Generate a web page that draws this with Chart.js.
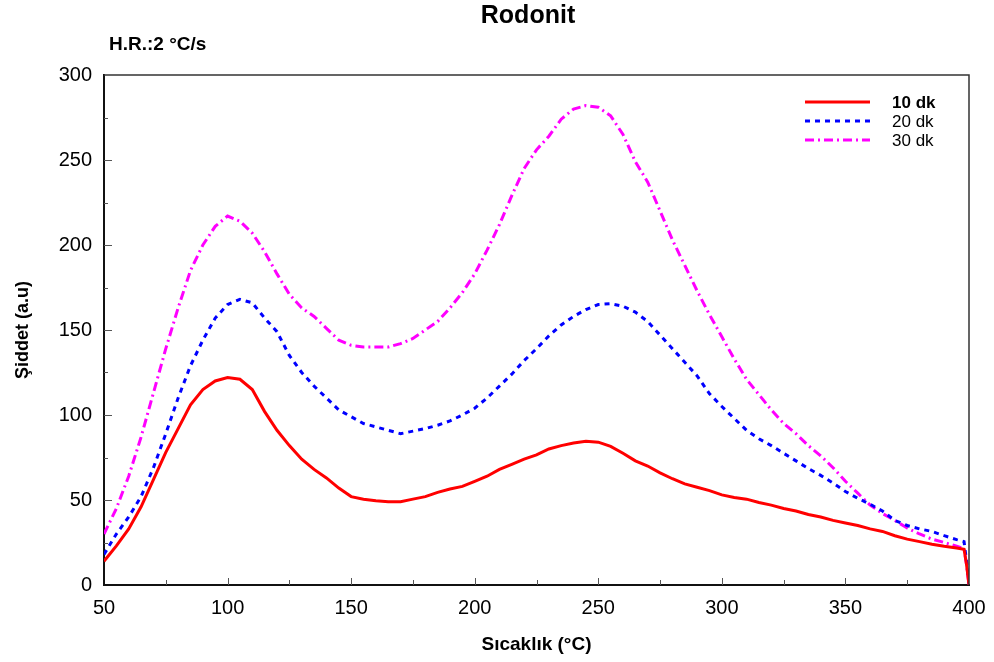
<!DOCTYPE html>
<html>
<head>
<meta charset="utf-8">
<script src="https://cdn.jsdelivr.net/npm/chart.js@4.4.1/dist/chart.umd.min.js"></script>
<style>
	body { margin: 0; background: #fff; }
	#wrap { width: 994px; height: 662px; }
</style>
</head>
<body>
<div id="wrap"><canvas id="chart" width="994" height="662"></canvas></div>
<script>
// Sıcaklık (°C)
const temps = [
	50, 55, 60, 65, 70, 75, 80, 85, 90, 95,
	100, 105, 110, 115, 120, 125, 130, 135, 140, 145,
	150, 155, 160, 165, 170, 175, 180, 185, 190, 195,
	200, 205, 210, 215, 220, 225, 230, 235, 240, 245,
	250, 255, 260, 265, 270, 275, 280, 285, 290, 295,
	300, 305, 310, 315, 320, 325, 330, 335, 340, 345,
	350, 355, 360, 365, 370, 375, 380, 385, 390, 395,
	398, 399, 400
];

// Şiddet (a.u) for each series
const dk10 = [
	14, 23, 33, 46, 62, 78, 92, 106, 115, 120,
	122, 121, 115, 102, 91, 82, 74, 68, 63, 57,
	52, 50.5, 49.5, 49, 49, 50.5, 52, 54.5, 56.5, 58,
	61, 64, 68, 71, 74, 76.5, 80, 82, 83.5, 84.5,
	84, 81.5, 77.5, 73, 70, 66, 62.5, 59.5, 57.5, 55.5,
	53, 51.5, 50.5, 48.5, 47, 45, 43.5, 41.5, 40, 38,
	36.5, 35, 33, 31.5, 29, 27, 25.5, 24, 22.8, 21.8,
	21, 12, 0
];

const dk20 = [
	18, 30, 40, 52, 69, 89, 110, 129, 144, 157,
	165, 168, 166, 157, 149, 135, 125, 117, 110, 103,
	99, 95, 93, 91, 89, 90.5, 92, 94, 96.5, 100,
	104, 110, 117, 124, 132, 139, 146.5, 153, 158, 162,
	165, 165.5, 164, 160.5, 155, 147, 139, 131, 123, 112.5,
	105, 98, 91, 86, 82, 77.5, 73, 68.5, 64.5, 60,
	55, 51, 47.5, 43.5, 38, 35, 33, 31.5, 29, 26.7,
	25.5, 14, 0
];

const dk30 = [
	30, 45, 64, 87, 113, 139, 163, 185, 200, 211,
	217, 214, 207, 196, 183, 171, 163, 158, 151, 144,
	141, 140, 140, 140, 142, 145, 150, 155, 163, 172,
	183, 197, 212, 229, 245, 256, 264, 274, 280, 282,
	281, 276, 265, 249, 237, 220, 203, 188, 173, 159,
	146, 133, 121, 112, 103, 95, 89, 82, 76, 69,
	61, 54, 47, 42, 38, 33.5, 30, 27, 25, 22.8,
	21.5, 12, 0
];

const seriesNames = ['10 dk', '20 dk', '30 dk'];
const xTicks = [50, 100, 150, 200, 250, 300, 350, 400];
const yTicks = [0, 50, 100, 150, 200, 250, 300];

const FONT = '"Liberation Sans", Arial, sans-serif';

const points = arr => temps.map((t, i) => ({ x: t, y: arr[i] }));

// inward ticks, box, free texts and legend
const decor = {
	id: 'decor',
	afterDraw(chart)
	{
		const { ctx, chartArea: a, scales } = chart;
		const xs = scales.x, ys = scales.y;
		ctx.save();

		// top and right frame
		ctx.strokeStyle = '#333';
		ctx.lineWidth = 1.5;
		ctx.beginPath();
		ctx.moveTo(a.left, a.top);
		ctx.lineTo(a.right, a.top);
		ctx.lineTo(a.right, a.bottom);
		ctx.stroke();

		// ticks pointing into the plot
		ctx.strokeStyle = '#555';
		ctx.lineWidth = 1;
		for (let v = 75; v < 400; v += 25) {
			const px = Math.round(xs.getPixelForValue(v)) + 0.5;
			const len = v % 50 === 0 ? 7 : 5;
			ctx.beginPath();
			ctx.moveTo(px, a.bottom);
			ctx.lineTo(px, a.bottom - len);
			ctx.stroke();
		}
		for (let v = 25; v < 300; v += 25) {
			const py = Math.round(ys.getPixelForValue(v)) + 0.5;
			const len = v % 50 === 0 ? 8 : 4;
			ctx.beginPath();
			ctx.moveTo(a.left, py);
			ctx.lineTo(a.left + len, py);
			ctx.stroke();
		}

		// titles
		ctx.fillStyle = '#000';
		ctx.textBaseline = 'middle';
		ctx.textAlign = 'center';
		ctx.font = 'bold 25px ' + FONT;
		ctx.fillText('Rodonit', 528, 16);
		ctx.textAlign = 'left';
		ctx.font = 'bold 19px ' + FONT;
		ctx.fillText('H.R.:2 °C/s', 109, 45);

		// legend
		const rows = [102, 121, 140];
		chart.data.datasets.forEach((ds, i) => {
			ctx.strokeStyle = ds.borderColor;
			ctx.lineWidth = ds.borderWidth;
			ctx.setLineDash(ds.borderDash || []);
			ctx.beginPath();
			ctx.moveTo(805, rows[i]);
			ctx.lineTo(870, rows[i]);
			ctx.stroke();
			ctx.setLineDash([]);
			ctx.fillStyle = '#000';
			ctx.font = (i === 0 ? 'bold ' : '') + '17px ' + FONT;
			ctx.fillText(ds.label, 892, rows[i] + 1);
		});

		ctx.restore();
	}
};

new Chart(document.getElementById('chart'), {
	type: 'line',
	data: {
		datasets: [
			{
				label: seriesNames[0],
				data: points(dk10),
				borderColor: '#ff0000',
				borderWidth: 3,
				pointRadius: 0,
				tension: 0,
			},
			{
				label: seriesNames[1],
				data: points(dk20),
				borderColor: '#0000ff',
				borderWidth: 3,
				borderDash: [5, 5],
				pointRadius: 0,
				tension: 0,
			},
			{
				label: seriesNames[2],
				data: points(dk30),
				borderColor: '#ff00ff',
				borderWidth: 3,
				borderDash: [9, 4, 2, 4],
				pointRadius: 0,
				tension: 0,
			}
		]
	},
	options: {
		responsive: false,
		animation: false,
		layout: {
			padding: { top: 75, right: 25, left: 0, bottom: 0 }
		},
		plugins: {
			legend: { display: false },
			title: { display: false },
			tooltip: { enabled: false },
		},
		scales: {
			x: {
				type: 'linear',
				min: 50,
				max: 400,
				afterFit: s => { s.height = 77; s.paddingLeft = 0; s.paddingRight = 0; },
				afterBuildTicks: s => { s.ticks = xTicks.map(v => ({ value: v })); },
				grid: { display: false, drawTicks: false },
				border: { display: true, color: '#111', width: 2 },
				ticks: {
					padding: 11,
					color: '#000',
					font: { family: FONT, size: 20 },
					maxRotation: 0,
				},
				title: {
					display: true,
					text: 'Sıcaklık (°C)',
					color: '#000',
					font: { family: FONT, size: 19, weight: 'bold' },
					padding: { top: 0, bottom: 6 },
				}
			},
			y: {
				min: 0,
				max: 300,
				afterFit: s => { s.width = 104; s.paddingTop = 0; s.paddingBottom = 0; },
				afterBuildTicks: s => { s.ticks = yTicks.map(v => ({ value: v })); },
				grid: { display: false, drawTicks: false },
				border: { display: true, color: '#111', width: 2 },
				ticks: {
					padding: 12,
					color: '#000',
					font: { family: FONT, size: 20 },
				},
				title: {
					display: true,
					text: 'Şiddet (a.u)',
					color: '#000',
					font: { family: FONT, size: 18, weight: 'bold' },
					padding: { top: 12, bottom: 0 },
				}
			}
		}
	},
	plugins: [decor]
});
</script>
</body>
</html>
